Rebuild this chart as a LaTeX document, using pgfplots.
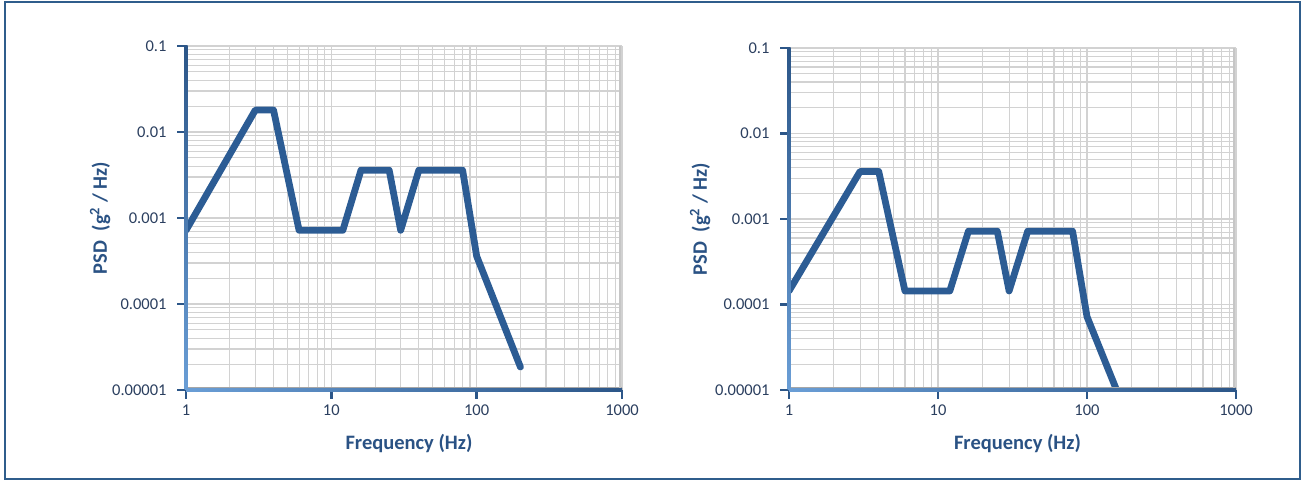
\documentclass[border=0pt]{standalone}
\usepackage{pgfplots}
\pgfplotsset{compat=1.18}
\usepackage{fontspec}
\setmainfont{Carlito}
\definecolor{lineblue}{HTML}{2C5C94}
\definecolor{labblue}{HTML}{2A5284}
\definecolor{tickcol}{HTML}{2B3F5F}
\definecolor{axdark}{HTML}{2C5688}
\definecolor{axlight}{HTML}{6A9ED6}
\definecolor{gridgray}{HTML}{D2D2D2}
\definecolor{frameblue}{HTML}{2F5D8C}
\pgfplotsset{
  psd/.style={
    scale only axis,
    anchor=south west,
    xmin=1, xmax=1000, ymin=1e-5, ymax=0.1,
    axis lines*=left,
    axis line style={draw=none},
    grid=both,
    major grid style={gridgray, line width=1.1pt},
    minor grid style={gridgray, line width=1.1pt},
    tick align=outside,
    major tick length=9pt,
    minor tick length=0pt,
    major tick style={axdark, line width=2.5pt},
    xtick={1,10,100,1000},
    xticklabels={1,10,100,1000},
    ytick={1e-5,1e-4,1e-3,1e-2,1e-1},
    yticklabels={0.00001,0.0001,0.001,0.01,0.1},
    tick label style={font=\fontsize{16.5}{19}\selectfont, text=tickcol},
    xticklabel style={yshift=-2pt},
    yticklabel style={xshift=-7pt},
    xlabel={Frequency (Hz)},
    ylabel={PSD\ \ (g\textsuperscript{2} / Hz)},
    label style={font=\fontsize{20.5}{24}\selectfont\bfseries, text=labblue},
    xlabel style={at={(axis description cs:0.5,0)}, anchor=center, yshift=-53pt, xshift=5pt},
    ylabel style={anchor=center},
  },
  psdline/.style={lineblue, line width=6.8pt, line join=round, line cap=round, mark=none},
}
\begin{document}
\begin{tikzpicture}
\path (0,0) rectangle (1305pt,481pt);
\draw[frameblue, line width=2.5pt] (5pt,2pt) rectangle (1300pt,479pt);

\begin{loglogaxis}[psd, name=L, at={(186pt,91pt)}, width=436pt, height=344pt,
  ylabel style={at={(axis description cs:-0.197,0.5)}}]
\addplot[psdline] coordinates {
(1,0.00072) (3,0.018) (4,0.018) (6,0.00072) (12,0.00072) (16,0.0036)
(25,0.0036) (30,0.00072) (40,0.0036) (80,0.0036) (100,0.00036) (200,0.0000185)
};
\end{loglogaxis}

\begin{loglogaxis}[psd, name=R, at={(789pt,91pt)}, width=447pt, height=342pt,
  ylabel style={at={(axis description cs:-0.199,0.5)}}]
\addplot[psdline] coordinates {
(1,0.000144) (3,0.0036) (4,0.0036) (6,0.000144) (12,0.000144) (16,0.00072)
(25,0.00072) (30,0.000144) (40,0.00072) (80,0.00072) (100,0.000072) (200,0.0000036)
};
\end{loglogaxis}

\foreach \a in {L,R}{
  \draw[gray!70, line width=1.5pt] ([yshift=2.5pt]\a.south west) -- ([yshift=2.5pt]\a.south east);
  \draw[gray!45, line width=1.5pt] ([xshift=-2pt]\a.south east) -- ([xshift=-2pt]\a.north east);
  \shade[left color=axlight, right color=axdark] ([yshift=-1.5pt]\a.south west) rectangle ([yshift=1.5pt]\a.south east);
  \shade[top color=axdark, bottom color=axlight] ([xshift=-1.5pt]\a.south west) rectangle ([xshift=1.5pt]\a.north west);
}
\end{tikzpicture}
\end{document}
